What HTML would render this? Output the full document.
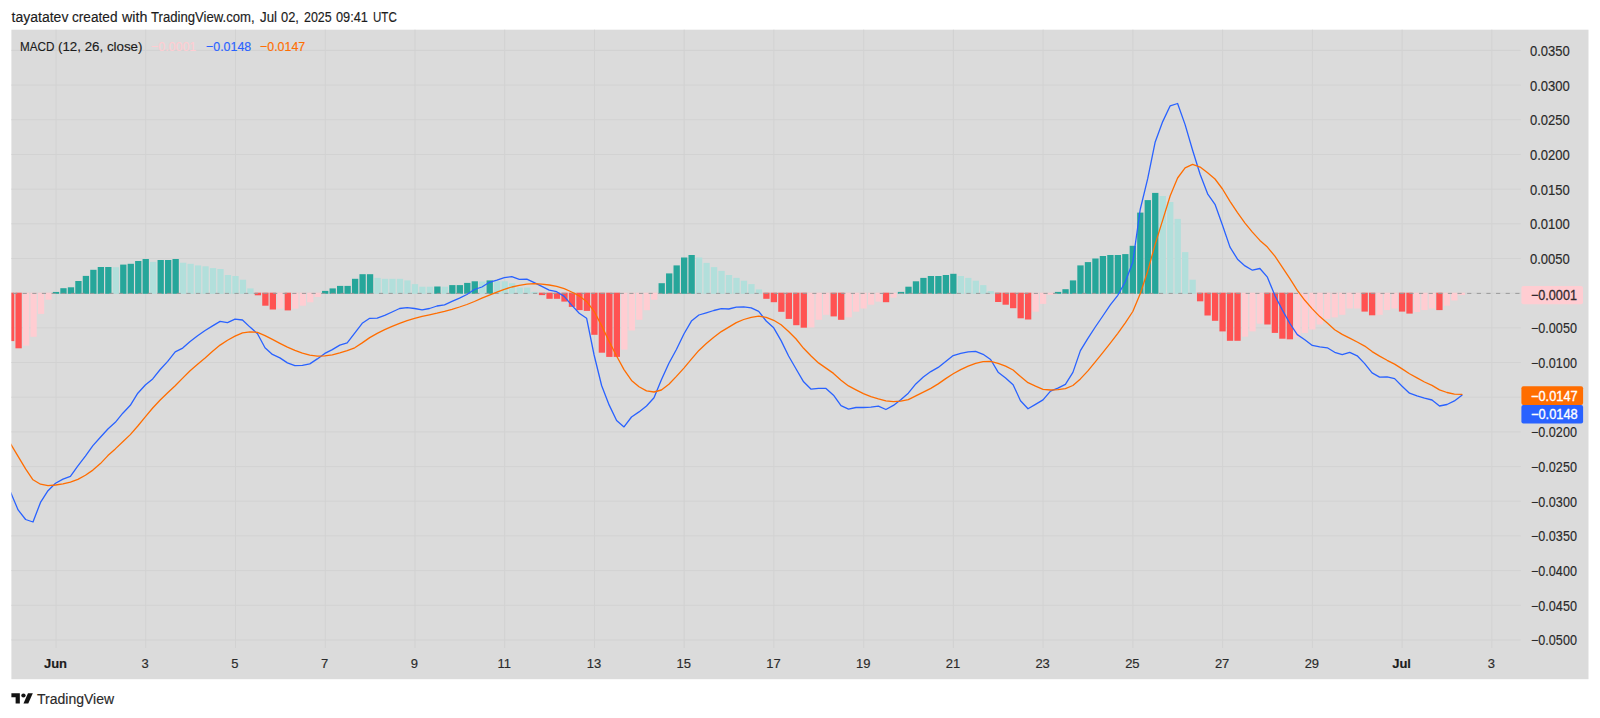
<!DOCTYPE html>
<html><head><meta charset="utf-8"><title>MACD chart</title>
<style>
html,body{margin:0;padding:0;background:#ffffff;}
body{width:1600px;height:718px;position:relative;overflow:hidden;font-family:"Liberation Sans",sans-serif;}
</style></head><body>
<svg width="1600" height="718" viewBox="0 0 1600 718" style="position:absolute;left:0;top:0"><defs><clipPath id="pane"><rect x="11.4" y="29.7" width="1509.4" height="618.3"/></clipPath></defs><rect x="11.4" y="29.7" width="1577.1" height="649.5" fill="#dbdbdb"/><g stroke="#d2d2d2" stroke-width="1"><line x1="11.4" x2="1520.8" y1="50.40" y2="50.40"/><line x1="11.4" x2="1520.8" y1="85.08" y2="85.08"/><line x1="11.4" x2="1520.8" y1="119.76" y2="119.76"/><line x1="11.4" x2="1520.8" y1="154.44" y2="154.44"/><line x1="11.4" x2="1520.8" y1="189.12" y2="189.12"/><line x1="11.4" x2="1520.8" y1="223.80" y2="223.80"/><line x1="11.4" x2="1520.8" y1="258.48" y2="258.48"/><line x1="11.4" x2="1520.8" y1="293.16" y2="293.16"/><line x1="11.4" x2="1520.8" y1="327.84" y2="327.84"/><line x1="11.4" x2="1520.8" y1="362.52" y2="362.52"/><line x1="11.4" x2="1520.8" y1="397.20" y2="397.20"/><line x1="11.4" x2="1520.8" y1="431.88" y2="431.88"/><line x1="11.4" x2="1520.8" y1="466.56" y2="466.56"/><line x1="11.4" x2="1520.8" y1="501.24" y2="501.24"/><line x1="11.4" x2="1520.8" y1="535.92" y2="535.92"/><line x1="11.4" x2="1520.8" y1="570.60" y2="570.60"/><line x1="11.4" x2="1520.8" y1="605.28" y2="605.28"/><line x1="11.4" x2="1520.8" y1="639.96" y2="639.96"/><line x1="56.00" x2="56.00" y1="29.7" y2="648"/><line x1="145.74" x2="145.74" y1="29.7" y2="648"/><line x1="235.48" x2="235.48" y1="29.7" y2="648"/><line x1="325.22" x2="325.22" y1="29.7" y2="648"/><line x1="414.96" x2="414.96" y1="29.7" y2="648"/><line x1="504.70" x2="504.70" y1="29.7" y2="648"/><line x1="594.44" x2="594.44" y1="29.7" y2="648"/><line x1="684.18" x2="684.18" y1="29.7" y2="648"/><line x1="773.92" x2="773.92" y1="29.7" y2="648"/><line x1="863.66" x2="863.66" y1="29.7" y2="648"/><line x1="953.40" x2="953.40" y1="29.7" y2="648"/><line x1="1043.14" x2="1043.14" y1="29.7" y2="648"/><line x1="1132.88" x2="1132.88" y1="29.7" y2="648"/><line x1="1222.62" x2="1222.62" y1="29.7" y2="648"/><line x1="1312.36" x2="1312.36" y1="29.7" y2="648"/><line x1="1402.10" x2="1402.10" y1="29.7" y2="648"/><line x1="1491.84" x2="1491.84" y1="29.7" y2="648"/></g><g clip-path="url(#pane)"><rect x="7.98" y="292.70" width="6.3" height="48.40" fill="#ff5252"/><rect x="15.46" y="292.70" width="6.3" height="55.60" fill="#ff5252"/><rect x="22.94" y="292.70" width="6.3" height="52.90" fill="#ffcdd2"/><rect x="30.41" y="292.70" width="6.3" height="44.10" fill="#ffcdd2"/><rect x="37.89" y="292.70" width="6.3" height="21.20" fill="#ffcdd2"/><rect x="45.37" y="292.70" width="6.3" height="7.00" fill="#ffcdd2"/><rect x="52.85" y="291.95" width="6.3" height="1.85" fill="#26a69a"/><rect x="60.33" y="288.20" width="6.3" height="5.60" fill="#26a69a"/><rect x="67.80" y="287.30" width="6.3" height="6.50" fill="#26a69a"/><rect x="75.28" y="281.00" width="6.3" height="12.80" fill="#26a69a"/><rect x="82.76" y="275.90" width="6.3" height="17.90" fill="#26a69a"/><rect x="90.24" y="269.80" width="6.3" height="24.00" fill="#26a69a"/><rect x="97.72" y="267.00" width="6.3" height="26.80" fill="#26a69a"/><rect x="105.19" y="267.00" width="6.3" height="26.80" fill="#26a69a"/><rect x="112.67" y="267.20" width="6.3" height="26.60" fill="#b2dfdb"/><rect x="120.15" y="264.60" width="6.3" height="29.20" fill="#26a69a"/><rect x="127.63" y="263.80" width="6.3" height="30.00" fill="#26a69a"/><rect x="135.11" y="261.00" width="6.3" height="32.80" fill="#26a69a"/><rect x="142.58" y="259.00" width="6.3" height="34.80" fill="#26a69a"/><rect x="150.06" y="261.90" width="6.3" height="31.90" fill="#b2dfdb"/><rect x="157.54" y="260.00" width="6.3" height="33.80" fill="#26a69a"/><rect x="165.02" y="260.00" width="6.3" height="33.80" fill="#26a69a"/><rect x="172.50" y="259.00" width="6.3" height="34.80" fill="#26a69a"/><rect x="179.97" y="262.70" width="6.3" height="31.10" fill="#b2dfdb"/><rect x="187.45" y="263.80" width="6.3" height="30.00" fill="#b2dfdb"/><rect x="194.93" y="265.40" width="6.3" height="28.40" fill="#b2dfdb"/><rect x="202.41" y="266.30" width="6.3" height="27.50" fill="#b2dfdb"/><rect x="209.89" y="268.10" width="6.3" height="25.70" fill="#b2dfdb"/><rect x="217.36" y="269.00" width="6.3" height="24.80" fill="#b2dfdb"/><rect x="224.84" y="275.00" width="6.3" height="18.80" fill="#b2dfdb"/><rect x="232.32" y="276.00" width="6.3" height="17.80" fill="#b2dfdb"/><rect x="239.80" y="279.70" width="6.3" height="14.10" fill="#b2dfdb"/><rect x="247.28" y="288.40" width="6.3" height="5.40" fill="#b2dfdb"/><rect x="254.75" y="292.70" width="6.3" height="2.60" fill="#ff5252"/><rect x="262.23" y="292.70" width="6.3" height="13.00" fill="#ff5252"/><rect x="269.71" y="292.70" width="6.3" height="16.80" fill="#ff5252"/><rect x="277.19" y="292.70" width="6.3" height="15.90" fill="#ffcdd2"/><rect x="284.67" y="292.70" width="6.3" height="17.70" fill="#ff5252"/><rect x="292.14" y="292.70" width="6.3" height="15.90" fill="#ffcdd2"/><rect x="299.62" y="292.70" width="6.3" height="13.00" fill="#ffcdd2"/><rect x="307.10" y="292.70" width="6.3" height="9.60" fill="#ffcdd2"/><rect x="314.58" y="292.70" width="6.3" height="4.30" fill="#ffcdd2"/><rect x="322.06" y="290.90" width="6.3" height="2.90" fill="#26a69a"/><rect x="329.53" y="288.40" width="6.3" height="5.40" fill="#26a69a"/><rect x="337.01" y="285.90" width="6.3" height="7.90" fill="#26a69a"/><rect x="344.49" y="285.90" width="6.3" height="7.90" fill="#26a69a"/><rect x="351.97" y="278.80" width="6.3" height="15.00" fill="#26a69a"/><rect x="359.45" y="274.20" width="6.3" height="19.60" fill="#26a69a"/><rect x="366.92" y="274.20" width="6.3" height="19.60" fill="#26a69a"/><rect x="374.40" y="277.90" width="6.3" height="15.90" fill="#b2dfdb"/><rect x="381.88" y="278.80" width="6.3" height="15.00" fill="#b2dfdb"/><rect x="389.36" y="278.80" width="6.3" height="15.00" fill="#b2dfdb"/><rect x="396.84" y="278.80" width="6.3" height="15.00" fill="#b2dfdb"/><rect x="404.31" y="280.40" width="6.3" height="13.40" fill="#b2dfdb"/><rect x="411.79" y="284.10" width="6.3" height="9.70" fill="#b2dfdb"/><rect x="419.27" y="286.70" width="6.3" height="7.10" fill="#b2dfdb"/><rect x="426.75" y="286.70" width="6.3" height="7.10" fill="#b2dfdb"/><rect x="434.23" y="286.50" width="6.3" height="7.30" fill="#26a69a"/><rect x="441.70" y="286.70" width="6.3" height="7.10" fill="#b2dfdb"/><rect x="449.18" y="285.10" width="6.3" height="8.70" fill="#26a69a"/><rect x="456.66" y="285.10" width="6.3" height="8.70" fill="#26a69a"/><rect x="464.14" y="282.90" width="6.3" height="10.90" fill="#26a69a"/><rect x="471.62" y="281.30" width="6.3" height="12.50" fill="#26a69a"/><rect x="479.09" y="281.50" width="6.3" height="12.30" fill="#b2dfdb"/><rect x="486.57" y="280.40" width="6.3" height="13.40" fill="#26a69a"/><rect x="494.05" y="281.30" width="6.3" height="12.50" fill="#b2dfdb"/><rect x="501.53" y="281.30" width="6.3" height="12.50" fill="#b2dfdb"/><rect x="509.01" y="283.20" width="6.3" height="10.60" fill="#b2dfdb"/><rect x="516.48" y="287.60" width="6.3" height="6.20" fill="#b2dfdb"/><rect x="523.96" y="287.60" width="6.3" height="6.20" fill="#b2dfdb"/><rect x="531.44" y="291.90" width="6.3" height="1.90" fill="#b2dfdb"/><rect x="538.92" y="292.70" width="6.3" height="2.40" fill="#ff5252"/><rect x="546.40" y="292.70" width="6.3" height="6.10" fill="#ff5252"/><rect x="553.87" y="292.70" width="6.3" height="6.10" fill="#ff5252"/><rect x="561.35" y="292.70" width="6.3" height="8.90" fill="#ff5252"/><rect x="568.83" y="292.70" width="6.3" height="14.20" fill="#ff5252"/><rect x="576.31" y="292.70" width="6.3" height="17.40" fill="#ff5252"/><rect x="583.79" y="292.70" width="6.3" height="18.20" fill="#ff5252"/><rect x="591.26" y="292.70" width="6.3" height="42.10" fill="#ff5252"/><rect x="598.74" y="292.70" width="6.3" height="60.00" fill="#ff5252"/><rect x="606.22" y="292.70" width="6.3" height="64.20" fill="#ff5252"/><rect x="613.70" y="292.70" width="6.3" height="64.20" fill="#ff5252"/><rect x="621.18" y="292.70" width="6.3" height="56.90" fill="#ffcdd2"/><rect x="628.65" y="292.70" width="6.3" height="37.80" fill="#ffcdd2"/><rect x="636.13" y="292.70" width="6.3" height="27.10" fill="#ffcdd2"/><rect x="643.61" y="292.70" width="6.3" height="17.50" fill="#ffcdd2"/><rect x="651.09" y="292.70" width="6.3" height="7.00" fill="#ffcdd2"/><rect x="658.57" y="283.20" width="6.3" height="10.60" fill="#26a69a"/><rect x="666.04" y="273.40" width="6.3" height="20.40" fill="#26a69a"/><rect x="673.52" y="265.40" width="6.3" height="28.40" fill="#26a69a"/><rect x="681.00" y="257.50" width="6.3" height="36.30" fill="#26a69a"/><rect x="688.48" y="255.00" width="6.3" height="38.80" fill="#26a69a"/><rect x="695.96" y="257.50" width="6.3" height="36.30" fill="#b2dfdb"/><rect x="703.43" y="262.90" width="6.3" height="30.90" fill="#b2dfdb"/><rect x="710.91" y="267.10" width="6.3" height="26.70" fill="#b2dfdb"/><rect x="718.39" y="270.90" width="6.3" height="22.90" fill="#b2dfdb"/><rect x="725.87" y="275.00" width="6.3" height="18.80" fill="#b2dfdb"/><rect x="733.35" y="277.90" width="6.3" height="15.90" fill="#b2dfdb"/><rect x="740.82" y="280.70" width="6.3" height="13.10" fill="#b2dfdb"/><rect x="748.30" y="284.10" width="6.3" height="9.70" fill="#b2dfdb"/><rect x="755.78" y="289.40" width="6.3" height="4.40" fill="#b2dfdb"/><rect x="763.26" y="292.70" width="6.3" height="6.10" fill="#ff5252"/><rect x="770.74" y="292.70" width="6.3" height="9.50" fill="#ff5252"/><rect x="778.21" y="292.70" width="6.3" height="19.10" fill="#ff5252"/><rect x="785.69" y="292.70" width="6.3" height="26.20" fill="#ff5252"/><rect x="793.17" y="292.70" width="6.3" height="32.50" fill="#ff5252"/><rect x="800.65" y="292.70" width="6.3" height="35.00" fill="#ff5252"/><rect x="808.13" y="292.70" width="6.3" height="34.70" fill="#ffcdd2"/><rect x="815.60" y="292.70" width="6.3" height="27.10" fill="#ffcdd2"/><rect x="823.08" y="292.70" width="6.3" height="22.10" fill="#ffcdd2"/><rect x="830.56" y="292.70" width="6.3" height="23.70" fill="#ff5252"/><rect x="838.04" y="292.70" width="6.3" height="27.10" fill="#ff5252"/><rect x="845.52" y="292.70" width="6.3" height="24.60" fill="#ffcdd2"/><rect x="852.99" y="292.70" width="6.3" height="19.00" fill="#ffcdd2"/><rect x="860.47" y="292.70" width="6.3" height="15.80" fill="#ffcdd2"/><rect x="867.95" y="292.70" width="6.3" height="12.00" fill="#ffcdd2"/><rect x="875.43" y="292.70" width="6.3" height="8.90" fill="#ffcdd2"/><rect x="882.91" y="292.70" width="6.3" height="9.50" fill="#ff5252"/><rect x="890.38" y="292.70" width="6.3" height="4.90" fill="#ffcdd2"/><rect x="897.86" y="291.90" width="6.3" height="1.90" fill="#26a69a"/><rect x="905.34" y="286.70" width="6.3" height="7.10" fill="#26a69a"/><rect x="912.82" y="281.30" width="6.3" height="12.50" fill="#26a69a"/><rect x="920.30" y="277.90" width="6.3" height="15.90" fill="#26a69a"/><rect x="927.77" y="276.00" width="6.3" height="17.80" fill="#26a69a"/><rect x="935.25" y="276.00" width="6.3" height="17.80" fill="#26a69a"/><rect x="942.73" y="275.00" width="6.3" height="18.80" fill="#26a69a"/><rect x="950.21" y="273.80" width="6.3" height="20.00" fill="#26a69a"/><rect x="957.69" y="276.00" width="6.3" height="17.80" fill="#b2dfdb"/><rect x="965.16" y="277.90" width="6.3" height="15.90" fill="#b2dfdb"/><rect x="972.64" y="280.70" width="6.3" height="13.10" fill="#b2dfdb"/><rect x="980.12" y="285.10" width="6.3" height="8.70" fill="#b2dfdb"/><rect x="987.60" y="291.10" width="6.3" height="2.70" fill="#b2dfdb"/><rect x="995.08" y="292.70" width="6.3" height="9.30" fill="#ff5252"/><rect x="1002.55" y="292.70" width="6.3" height="12.00" fill="#ff5252"/><rect x="1010.03" y="292.70" width="6.3" height="15.50" fill="#ff5252"/><rect x="1017.51" y="292.70" width="6.3" height="25.60" fill="#ff5252"/><rect x="1024.99" y="292.70" width="6.3" height="26.80" fill="#ff5252"/><rect x="1032.47" y="292.70" width="6.3" height="19.00" fill="#ffcdd2"/><rect x="1039.94" y="292.70" width="6.3" height="11.20" fill="#ffcdd2"/><rect x="1047.42" y="292.70" width="6.3" height="2.10" fill="#ffcdd2"/><rect x="1054.90" y="291.90" width="6.3" height="1.90" fill="#26a69a"/><rect x="1062.38" y="289.20" width="6.3" height="4.60" fill="#26a69a"/><rect x="1069.86" y="280.40" width="6.3" height="13.40" fill="#26a69a"/><rect x="1077.33" y="265.40" width="6.3" height="28.40" fill="#26a69a"/><rect x="1084.81" y="262.10" width="6.3" height="31.70" fill="#26a69a"/><rect x="1092.29" y="258.50" width="6.3" height="35.30" fill="#26a69a"/><rect x="1099.77" y="256.00" width="6.3" height="37.80" fill="#26a69a"/><rect x="1107.25" y="255.00" width="6.3" height="38.80" fill="#26a69a"/><rect x="1114.72" y="255.00" width="6.3" height="38.80" fill="#26a69a"/><rect x="1122.20" y="254.10" width="6.3" height="39.70" fill="#26a69a"/><rect x="1129.68" y="245.80" width="6.3" height="48.00" fill="#26a69a"/><rect x="1137.16" y="212.60" width="6.3" height="81.20" fill="#26a69a"/><rect x="1144.64" y="200.10" width="6.3" height="93.70" fill="#26a69a"/><rect x="1152.11" y="192.90" width="6.3" height="100.90" fill="#26a69a"/><rect x="1159.59" y="196.00" width="6.3" height="97.80" fill="#b2dfdb"/><rect x="1167.07" y="202.00" width="6.3" height="91.80" fill="#b2dfdb"/><rect x="1174.55" y="218.90" width="6.3" height="74.90" fill="#b2dfdb"/><rect x="1182.03" y="252.10" width="6.3" height="41.70" fill="#b2dfdb"/><rect x="1189.50" y="279.70" width="6.3" height="14.10" fill="#b2dfdb"/><rect x="1196.98" y="292.70" width="6.3" height="8.60" fill="#ff5252"/><rect x="1204.46" y="292.70" width="6.3" height="22.80" fill="#ff5252"/><rect x="1211.94" y="292.70" width="6.3" height="28.10" fill="#ff5252"/><rect x="1219.42" y="292.70" width="6.3" height="38.70" fill="#ff5252"/><rect x="1226.89" y="292.70" width="6.3" height="48.10" fill="#ff5252"/><rect x="1234.37" y="292.70" width="6.3" height="48.10" fill="#ff5252"/><rect x="1241.85" y="292.70" width="6.3" height="44.00" fill="#ffcdd2"/><rect x="1249.33" y="292.70" width="6.3" height="38.70" fill="#ffcdd2"/><rect x="1256.81" y="292.70" width="6.3" height="31.00" fill="#ffcdd2"/><rect x="1264.28" y="292.70" width="6.3" height="31.80" fill="#ff5252"/><rect x="1271.76" y="292.70" width="6.3" height="40.20" fill="#ff5252"/><rect x="1279.24" y="292.70" width="6.3" height="46.00" fill="#ff5252"/><rect x="1286.72" y="292.70" width="6.3" height="46.60" fill="#ff5252"/><rect x="1294.20" y="292.70" width="6.3" height="44.70" fill="#ffcdd2"/><rect x="1301.67" y="292.70" width="6.3" height="40.30" fill="#ffcdd2"/><rect x="1309.15" y="292.70" width="6.3" height="36.80" fill="#ffcdd2"/><rect x="1316.63" y="292.70" width="6.3" height="31.80" fill="#ffcdd2"/><rect x="1324.11" y="292.70" width="6.3" height="26.20" fill="#ffcdd2"/><rect x="1331.59" y="292.70" width="6.3" height="24.70" fill="#ffcdd2"/><rect x="1339.06" y="292.70" width="6.3" height="22.10" fill="#ffcdd2"/><rect x="1346.54" y="292.70" width="6.3" height="15.80" fill="#ffcdd2"/><rect x="1354.02" y="292.70" width="6.3" height="15.80" fill="#ffcdd2"/><rect x="1361.50" y="292.70" width="6.3" height="18.90" fill="#ff5252"/><rect x="1368.98" y="292.70" width="6.3" height="22.60" fill="#ff5252"/><rect x="1376.45" y="292.70" width="6.3" height="22.10" fill="#ffcdd2"/><rect x="1383.93" y="292.70" width="6.3" height="17.40" fill="#ffcdd2"/><rect x="1391.41" y="292.70" width="6.3" height="15.80" fill="#ffcdd2"/><rect x="1398.89" y="292.70" width="6.3" height="18.90" fill="#ff5252"/><rect x="1406.37" y="292.70" width="6.3" height="20.90" fill="#ff5252"/><rect x="1413.84" y="292.70" width="6.3" height="19.30" fill="#ffcdd2"/><rect x="1421.32" y="292.70" width="6.3" height="17.40" fill="#ffcdd2"/><rect x="1428.80" y="292.70" width="6.3" height="15.80" fill="#ffcdd2"/><rect x="1436.28" y="292.70" width="6.3" height="17.40" fill="#ff5252"/><rect x="1443.76" y="292.70" width="6.3" height="13.00" fill="#ffcdd2"/><rect x="1451.23" y="292.70" width="6.3" height="7.80" fill="#ffcdd2"/><rect x="1458.71" y="292.70" width="6.3" height="2.40" fill="#ffcdd2"/><line x1="11.4" x2="1520.8" y1="293.4" y2="293.4" stroke="#9a9a9a" stroke-width="1" stroke-dasharray="4.2 5.43" stroke-dashoffset="-1.6"/><path d="M10.6,492.2 L18.1,509.9 L25.6,519.5 L33.0,522.0 L40.5,502.4 L48.0,490.7 L55.5,483.2 L63.0,479.1 L70.4,476.4 L77.9,465.9 L85.4,456.1 L92.9,445.6 L100.4,437.3 L107.9,429.0 L115.3,422.3 L122.8,413.2 L130.3,405.3 L137.8,393.2 L145.3,385.0 L152.7,378.9 L160.2,369.5 L167.7,361.4 L175.2,351.9 L182.7,348.1 L190.1,341.4 L197.6,335.8 L205.1,330.5 L212.6,325.9 L220.1,321.4 L227.5,322.6 L235.0,319.2 L242.5,320.0 L250.0,327.1 L257.5,333.8 L265.0,347.8 L272.4,354.4 L279.9,357.9 L287.4,362.9 L294.9,365.6 L302.4,365.4 L309.8,363.9 L317.3,358.9 L324.8,353.4 L332.3,349.6 L339.8,345.1 L347.2,342.9 L354.7,333.1 L362.2,323.3 L369.7,318.3 L377.2,318.1 L384.7,315.3 L392.1,312.0 L399.6,308.5 L407.1,307.6 L414.6,308.5 L422.1,309.9 L429.5,308.5 L437.0,306.0 L444.5,304.8 L452.0,301.4 L459.5,298.2 L466.9,294.5 L474.4,289.5 L481.9,287.0 L489.4,282.3 L496.9,280.1 L504.3,277.6 L511.8,276.6 L519.3,279.4 L526.8,279.2 L534.3,282.6 L541.8,286.3 L549.2,290.1 L556.7,291.7 L564.2,296.4 L571.7,305.1 L579.2,313.3 L586.6,318.2 L594.1,355.0 L601.6,385.5 L609.1,404.9 L616.6,420.5 L624.0,426.9 L631.5,417.0 L639.0,411.9 L646.5,406.0 L654.0,397.8 L661.4,379.8 L668.9,363.2 L676.4,349.5 L683.9,334.0 L691.4,321.1 L698.9,315.0 L706.3,312.8 L713.8,310.5 L721.3,308.6 L728.8,309.0 L736.3,307.1 L743.7,306.8 L751.2,307.8 L758.7,311.3 L766.2,321.0 L773.7,327.8 L781.1,340.6 L788.6,356.0 L796.1,369.0 L803.6,381.8 L811.1,389.2 L818.5,388.4 L826.0,388.4 L833.5,395.2 L841.0,405.7 L848.5,409.2 L856.0,407.5 L863.4,407.5 L870.9,407.2 L878.4,406.2 L885.9,409.5 L893.4,405.4 L900.8,399.7 L908.3,393.2 L915.8,383.9 L923.3,377.1 L930.8,371.6 L938.2,367.4 L945.7,361.4 L953.2,355.6 L960.7,353.4 L968.2,351.9 L975.6,351.3 L983.1,354.3 L990.6,359.5 L998.1,372.2 L1005.6,377.9 L1013.1,384.7 L1020.5,400.7 L1028.0,408.8 L1035.5,404.4 L1043.0,399.9 L1050.5,391.2 L1057.9,388.2 L1065.4,384.4 L1072.9,372.4 L1080.4,350.6 L1087.9,338.3 L1095.3,327.0 L1102.8,316.0 L1110.3,304.9 L1117.8,295.3 L1125.3,281.7 L1132.8,262.2 L1140.2,209.5 L1147.7,178.7 L1155.2,141.9 L1162.7,121.6 L1170.2,105.8 L1177.6,103.5 L1185.1,124.6 L1192.6,150.2 L1200.1,174.2 L1207.6,193.8 L1215.0,204.3 L1222.5,225.3 L1230.0,247.1 L1237.5,259.2 L1245.0,265.9 L1252.4,270.2 L1259.9,268.5 L1267.4,277.2 L1274.9,295.5 L1282.4,310.1 L1289.9,323.5 L1297.3,334.6 L1304.8,339.8 L1312.3,345.4 L1319.8,346.8 L1327.3,347.8 L1334.7,352.3 L1342.2,354.6 L1349.7,352.3 L1357.2,355.8 L1364.7,363.6 L1372.1,372.9 L1379.6,377.1 L1387.1,376.8 L1394.6,378.6 L1402.1,386.2 L1409.5,393.2 L1417.0,395.9 L1424.5,398.2 L1432.0,400.0 L1439.5,406.0 L1447.0,404.5 L1454.4,400.9 L1461.9,395.2" fill="none" stroke="#2962ff" stroke-width="1.3" stroke-linejoin="round" stroke-linecap="round"/><path d="M10.6,443.8 L18.1,456.4 L25.6,468.9 L33.0,479.8 L40.5,484.2 L48.0,485.6 L55.5,485.0 L63.0,483.9 L70.4,482.1 L77.9,479.4 L85.4,475.3 L92.9,470.1 L100.4,463.6 L107.9,455.6 L115.3,448.9 L122.8,441.8 L130.3,434.6 L137.8,426.0 L145.3,416.9 L152.7,408.0 L160.2,400.0 L167.7,392.8 L175.2,385.7 L182.7,378.1 L190.1,370.7 L197.6,364.2 L205.1,357.9 L212.6,351.2 L220.1,345.1 L227.5,340.2 L235.0,336.1 L242.5,332.8 L250.0,331.9 L257.5,332.3 L265.0,335.6 L272.4,339.4 L279.9,343.3 L287.4,347.1 L294.9,350.4 L302.4,353.2 L309.8,355.2 L317.3,356.2 L324.8,355.9 L332.3,354.9 L339.8,352.9 L347.2,350.6 L354.7,347.8 L362.2,342.9 L369.7,337.6 L377.2,333.4 L384.7,329.7 L392.1,326.4 L399.6,323.3 L407.1,320.6 L414.6,318.3 L422.1,316.4 L429.5,314.8 L437.0,313.2 L444.5,311.4 L452.0,309.3 L459.5,307.0 L466.9,304.5 L474.4,301.5 L481.9,298.2 L489.4,295.1 L496.9,292.1 L504.3,289.3 L511.8,287.0 L519.3,285.3 L526.8,284.1 L534.3,283.6 L541.8,284.1 L549.2,285.0 L556.7,286.3 L564.2,288.7 L571.7,292.0 L579.2,295.9 L586.6,301.4 L594.1,311.3 L601.6,325.6 L609.1,341.4 L616.6,356.0 L624.0,369.6 L631.5,380.4 L639.0,386.7 L646.5,390.9 L654.0,392.0 L661.4,390.0 L668.9,384.3 L676.4,376.4 L683.9,368.1 L691.4,359.1 L698.9,350.4 L706.3,343.6 L713.8,337.3 L721.3,331.6 L728.8,327.1 L736.3,322.6 L743.7,319.5 L751.2,317.3 L758.7,316.2 L766.2,317.3 L773.7,320.3 L781.1,324.8 L788.6,331.5 L796.1,339.0 L803.6,348.3 L811.1,356.0 L818.5,362.9 L826.0,368.1 L833.5,373.4 L841.0,380.2 L848.5,385.9 L856.0,389.9 L863.4,393.7 L870.9,396.7 L878.4,398.9 L885.9,400.8 L893.4,401.7 L900.8,401.2 L908.3,399.7 L915.8,395.9 L923.3,392.2 L930.8,388.4 L938.2,383.9 L945.7,378.6 L953.2,373.8 L960.7,369.6 L968.2,366.2 L975.6,363.3 L983.1,361.7 L990.6,361.4 L998.1,363.3 L1005.6,366.2 L1013.1,370.0 L1020.5,376.6 L1028.0,382.7 L1035.5,386.2 L1043.0,389.4 L1050.5,390.0 L1057.9,389.7 L1065.4,388.6 L1072.9,385.5 L1080.4,378.9 L1087.9,370.9 L1095.3,361.9 L1102.8,352.6 L1110.3,343.1 L1117.8,333.3 L1125.3,322.8 L1132.8,311.5 L1140.2,293.8 L1147.7,271.2 L1155.2,244.1 L1162.7,220.1 L1170.2,195.7 L1177.6,178.0 L1185.1,167.9 L1192.6,164.4 L1200.1,167.1 L1207.6,172.7 L1215.0,179.0 L1222.5,189.0 L1230.0,201.3 L1237.5,212.6 L1245.0,223.1 L1252.4,232.1 L1259.9,240.4 L1267.4,247.1 L1274.9,256.2 L1282.4,267.4 L1289.9,278.7 L1297.3,290.3 L1304.8,300.3 L1312.3,308.9 L1319.8,316.6 L1327.3,323.0 L1334.7,329.7 L1342.2,334.4 L1349.7,338.2 L1357.2,342.0 L1364.7,346.1 L1372.1,351.6 L1379.6,356.1 L1387.1,360.3 L1394.6,364.1 L1402.1,368.9 L1409.5,373.7 L1417.0,377.9 L1424.5,382.0 L1432.0,385.4 L1439.5,389.9 L1447.0,392.5 L1454.4,394.1 L1461.9,394.4" fill="none" stroke="#ff6d00" stroke-width="1.3" stroke-linejoin="round" stroke-linecap="round"/></g><rect x="1521.4" y="286" width="61.6" height="18.3" rx="2" fill="#ffcdd2"/><rect x="1521.4" y="386.3" width="61.7" height="18.6" rx="2" fill="#ff6d00"/><rect x="1521.4" y="404.9" width="61.7" height="18.5" rx="2" fill="#2962ff"/><g transform="translate(11.4,690.95) scale(0.603,0.575)" fill="#131313"><path d="M14 22H7V11H0V4h14v18z"/><path d="M28 22h-8l7.5-18h8L28 22z"/><circle cx="20" cy="8" r="3.6"/></g></svg>
<div style="position:absolute;top:9px;font-size:14px;line-height:16px;height:16px;color:#1c1c1c;font-weight:normal;white-space:nowrap;left:11.6px;transform-origin:left center;transform:scaleX(1.0);-webkit-text-stroke:0.15px #1c1c1c;">tayatatev</div><div style="position:absolute;top:9px;font-size:14px;line-height:16px;height:16px;color:#1c1c1c;font-weight:normal;white-space:nowrap;left:72.2px;transform-origin:left center;transform:scaleX(0.975);-webkit-text-stroke:0.15px #1c1c1c;">created</div><div style="position:absolute;top:9px;font-size:14px;line-height:16px;height:16px;color:#1c1c1c;font-weight:normal;white-space:nowrap;left:122.2px;transform-origin:left center;transform:scaleX(1.02);-webkit-text-stroke:0.15px #1c1c1c;">with</div><div style="position:absolute;top:9px;font-size:14px;line-height:16px;height:16px;color:#1c1c1c;font-weight:normal;white-space:nowrap;left:151.2px;transform-origin:left center;transform:scaleX(0.938);-webkit-text-stroke:0.15px #1c1c1c;">TradingView.com,</div><div style="position:absolute;top:9px;font-size:14px;line-height:16px;height:16px;color:#1c1c1c;font-weight:normal;white-space:nowrap;left:259.6px;transform-origin:left center;transform:scaleX(0.95);-webkit-text-stroke:0.15px #1c1c1c;">Jul</div><div style="position:absolute;top:9px;font-size:14px;line-height:16px;height:16px;color:#1c1c1c;font-weight:normal;white-space:nowrap;left:281.4px;transform-origin:left center;transform:scaleX(0.92);-webkit-text-stroke:0.15px #1c1c1c;">02,</div><div style="position:absolute;top:9px;font-size:14px;line-height:16px;height:16px;color:#1c1c1c;font-weight:normal;white-space:nowrap;left:303.5px;transform-origin:left center;transform:scaleX(0.89);-webkit-text-stroke:0.15px #1c1c1c;">2025</div><div style="position:absolute;top:9px;font-size:14px;line-height:16px;height:16px;color:#1c1c1c;font-weight:normal;white-space:nowrap;left:336.2px;transform-origin:left center;transform:scaleX(0.912);-webkit-text-stroke:0.15px #1c1c1c;">09:41</div><div style="position:absolute;top:9px;font-size:14px;line-height:16px;height:16px;color:#1c1c1c;font-weight:normal;white-space:nowrap;left:372.6px;transform-origin:left center;transform:scaleX(0.825);-webkit-text-stroke:0.15px #1c1c1c;">UTC</div><div style="position:absolute;top:39px;font-size:13px;line-height:15px;height:15px;color:#1c1c1c;font-weight:normal;white-space:nowrap;left:20.1px;transform-origin:left center;transform:scaleX(0.9);-webkit-text-stroke:0.15px #1c1c1c;">MACD</div><div style="position:absolute;top:39px;font-size:13px;line-height:15px;height:15px;color:#1c1c1c;font-weight:normal;white-space:nowrap;left:58.2px;transform-origin:left center;transform:scaleX(1.025);-webkit-text-stroke:0.15px #1c1c1c;">(12, 26, close)</div><div style="position:absolute;top:39px;font-size:13px;line-height:15px;height:15px;color:#ffcdd2;font-weight:normal;white-space:nowrap;left:151.3px;transform-origin:left center;transform:scaleX(0.955);-webkit-text-stroke:0.15px #ffcdd2;">−0.0001</div><div style="position:absolute;top:39px;font-size:13px;line-height:15px;height:15px;color:#2962ff;font-weight:normal;white-space:nowrap;left:206px;transform-origin:left center;transform:scaleX(0.955);-webkit-text-stroke:0.15px #2962ff;">−0.0148</div><div style="position:absolute;top:39px;font-size:13px;line-height:15px;height:15px;color:#ff6d00;font-weight:normal;white-space:nowrap;left:260.3px;transform-origin:left center;transform:scaleX(0.955);-webkit-text-stroke:0.15px #ff6d00;">−0.0147</div><div style="position:absolute;top:43px;font-size:14px;line-height:16px;height:16px;color:#2a2a2a;font-weight:normal;white-space:nowrap;left:1530.4px;transform-origin:left center;transform:scaleX(0.929);-webkit-text-stroke:0.15px #2a2a2a;">0.0350</div><div style="position:absolute;top:78px;font-size:14px;line-height:16px;height:16px;color:#2a2a2a;font-weight:normal;white-space:nowrap;left:1530.4px;transform-origin:left center;transform:scaleX(0.929);-webkit-text-stroke:0.15px #2a2a2a;">0.0300</div><div style="position:absolute;top:112px;font-size:14px;line-height:16px;height:16px;color:#2a2a2a;font-weight:normal;white-space:nowrap;left:1530.4px;transform-origin:left center;transform:scaleX(0.929);-webkit-text-stroke:0.15px #2a2a2a;">0.0250</div><div style="position:absolute;top:147px;font-size:14px;line-height:16px;height:16px;color:#2a2a2a;font-weight:normal;white-space:nowrap;left:1530.4px;transform-origin:left center;transform:scaleX(0.929);-webkit-text-stroke:0.15px #2a2a2a;">0.0200</div><div style="position:absolute;top:182px;font-size:14px;line-height:16px;height:16px;color:#2a2a2a;font-weight:normal;white-space:nowrap;left:1530.4px;transform-origin:left center;transform:scaleX(0.929);-webkit-text-stroke:0.15px #2a2a2a;">0.0150</div><div style="position:absolute;top:216px;font-size:14px;line-height:16px;height:16px;color:#2a2a2a;font-weight:normal;white-space:nowrap;left:1530.4px;transform-origin:left center;transform:scaleX(0.929);-webkit-text-stroke:0.15px #2a2a2a;">0.0100</div><div style="position:absolute;top:251px;font-size:14px;line-height:16px;height:16px;color:#2a2a2a;font-weight:normal;white-space:nowrap;left:1530.4px;transform-origin:left center;transform:scaleX(0.929);-webkit-text-stroke:0.15px #2a2a2a;">0.0050</div><div style="position:absolute;top:320px;font-size:14px;line-height:16px;height:16px;color:#2a2a2a;font-weight:normal;white-space:nowrap;left:1531.0px;transform-origin:left center;transform:scaleX(0.9);-webkit-text-stroke:0.15px #2a2a2a;">−0.0050</div><div style="position:absolute;top:355px;font-size:14px;line-height:16px;height:16px;color:#2a2a2a;font-weight:normal;white-space:nowrap;left:1531.0px;transform-origin:left center;transform:scaleX(0.9);-webkit-text-stroke:0.15px #2a2a2a;">−0.0100</div><div style="position:absolute;top:424px;font-size:14px;line-height:16px;height:16px;color:#2a2a2a;font-weight:normal;white-space:nowrap;left:1531.0px;transform-origin:left center;transform:scaleX(0.9);-webkit-text-stroke:0.15px #2a2a2a;">−0.0200</div><div style="position:absolute;top:459px;font-size:14px;line-height:16px;height:16px;color:#2a2a2a;font-weight:normal;white-space:nowrap;left:1531.0px;transform-origin:left center;transform:scaleX(0.9);-webkit-text-stroke:0.15px #2a2a2a;">−0.0250</div><div style="position:absolute;top:494px;font-size:14px;line-height:16px;height:16px;color:#2a2a2a;font-weight:normal;white-space:nowrap;left:1531.0px;transform-origin:left center;transform:scaleX(0.9);-webkit-text-stroke:0.15px #2a2a2a;">−0.0300</div><div style="position:absolute;top:528px;font-size:14px;line-height:16px;height:16px;color:#2a2a2a;font-weight:normal;white-space:nowrap;left:1531.0px;transform-origin:left center;transform:scaleX(0.9);-webkit-text-stroke:0.15px #2a2a2a;">−0.0350</div><div style="position:absolute;top:563px;font-size:14px;line-height:16px;height:16px;color:#2a2a2a;font-weight:normal;white-space:nowrap;left:1531.0px;transform-origin:left center;transform:scaleX(0.9);-webkit-text-stroke:0.15px #2a2a2a;">−0.0400</div><div style="position:absolute;top:598px;font-size:14px;line-height:16px;height:16px;color:#2a2a2a;font-weight:normal;white-space:nowrap;left:1531.0px;transform-origin:left center;transform:scaleX(0.9);-webkit-text-stroke:0.15px #2a2a2a;">−0.0450</div><div style="position:absolute;top:632px;font-size:14px;line-height:16px;height:16px;color:#2a2a2a;font-weight:normal;white-space:nowrap;left:1531.0px;transform-origin:left center;transform:scaleX(0.9);-webkit-text-stroke:0.15px #2a2a2a;">−0.0500</div><div style="position:absolute;top:287px;font-size:14px;line-height:16px;height:16px;color:#33292d;font-weight:normal;white-space:nowrap;left:1531.4px;transform-origin:left center;transform:scaleX(0.9);-webkit-text-stroke:0.3px #33292d;">−0.0001</div><div style="position:absolute;top:388px;font-size:14px;line-height:16px;height:16px;color:#ffffff;font-weight:normal;white-space:nowrap;left:1531.2px;transform-origin:left center;transform:scaleX(0.915);-webkit-text-stroke:0.35px #ffffff;">−0.0147</div><div style="position:absolute;top:406px;font-size:14px;line-height:16px;height:16px;color:#ffffff;font-weight:normal;white-space:nowrap;left:1531.2px;transform-origin:left center;transform:scaleX(0.915);-webkit-text-stroke:0.35px #ffffff;">−0.0148</div><div style="position:absolute;top:656px;font-size:13px;line-height:15px;height:15px;color:#1c1c1c;font-weight:bold;white-space:nowrap;left:55.5px;transform-origin:center center;transform:translateX(-50%);-webkit-text-stroke:0.15px #1c1c1c;">Jun</div><div style="position:absolute;top:656px;font-size:13px;line-height:15px;height:15px;color:#2a2a2a;font-weight:normal;white-space:nowrap;left:145.24px;transform-origin:center center;transform:translateX(-50%);-webkit-text-stroke:0.15px #2a2a2a;">3</div><div style="position:absolute;top:656px;font-size:13px;line-height:15px;height:15px;color:#2a2a2a;font-weight:normal;white-space:nowrap;left:234.98px;transform-origin:center center;transform:translateX(-50%);-webkit-text-stroke:0.15px #2a2a2a;">5</div><div style="position:absolute;top:656px;font-size:13px;line-height:15px;height:15px;color:#2a2a2a;font-weight:normal;white-space:nowrap;left:324.71999999999997px;transform-origin:center center;transform:translateX(-50%);-webkit-text-stroke:0.15px #2a2a2a;">7</div><div style="position:absolute;top:656px;font-size:13px;line-height:15px;height:15px;color:#2a2a2a;font-weight:normal;white-space:nowrap;left:414.46px;transform-origin:center center;transform:translateX(-50%);-webkit-text-stroke:0.15px #2a2a2a;">9</div><div style="position:absolute;top:656px;font-size:13px;line-height:15px;height:15px;color:#2a2a2a;font-weight:normal;white-space:nowrap;left:504.2px;transform-origin:center center;transform:translateX(-50%);-webkit-text-stroke:0.15px #2a2a2a;">11</div><div style="position:absolute;top:656px;font-size:13px;line-height:15px;height:15px;color:#2a2a2a;font-weight:normal;white-space:nowrap;left:593.9399999999999px;transform-origin:center center;transform:translateX(-50%);-webkit-text-stroke:0.15px #2a2a2a;">13</div><div style="position:absolute;top:656px;font-size:13px;line-height:15px;height:15px;color:#2a2a2a;font-weight:normal;white-space:nowrap;left:683.68px;transform-origin:center center;transform:translateX(-50%);-webkit-text-stroke:0.15px #2a2a2a;">15</div><div style="position:absolute;top:656px;font-size:13px;line-height:15px;height:15px;color:#2a2a2a;font-weight:normal;white-space:nowrap;left:773.42px;transform-origin:center center;transform:translateX(-50%);-webkit-text-stroke:0.15px #2a2a2a;">17</div><div style="position:absolute;top:656px;font-size:13px;line-height:15px;height:15px;color:#2a2a2a;font-weight:normal;white-space:nowrap;left:863.16px;transform-origin:center center;transform:translateX(-50%);-webkit-text-stroke:0.15px #2a2a2a;">19</div><div style="position:absolute;top:656px;font-size:13px;line-height:15px;height:15px;color:#2a2a2a;font-weight:normal;white-space:nowrap;left:952.9px;transform-origin:center center;transform:translateX(-50%);-webkit-text-stroke:0.15px #2a2a2a;">21</div><div style="position:absolute;top:656px;font-size:13px;line-height:15px;height:15px;color:#2a2a2a;font-weight:normal;white-space:nowrap;left:1042.6399999999999px;transform-origin:center center;transform:translateX(-50%);-webkit-text-stroke:0.15px #2a2a2a;">23</div><div style="position:absolute;top:656px;font-size:13px;line-height:15px;height:15px;color:#2a2a2a;font-weight:normal;white-space:nowrap;left:1132.3799999999999px;transform-origin:center center;transform:translateX(-50%);-webkit-text-stroke:0.15px #2a2a2a;">25</div><div style="position:absolute;top:656px;font-size:13px;line-height:15px;height:15px;color:#2a2a2a;font-weight:normal;white-space:nowrap;left:1222.12px;transform-origin:center center;transform:translateX(-50%);-webkit-text-stroke:0.15px #2a2a2a;">27</div><div style="position:absolute;top:656px;font-size:13px;line-height:15px;height:15px;color:#2a2a2a;font-weight:normal;white-space:nowrap;left:1311.86px;transform-origin:center center;transform:translateX(-50%);-webkit-text-stroke:0.15px #2a2a2a;">29</div><div style="position:absolute;top:656px;font-size:13px;line-height:15px;height:15px;color:#1c1c1c;font-weight:bold;white-space:nowrap;left:1401.6px;transform-origin:center center;transform:translateX(-50%);-webkit-text-stroke:0.15px #1c1c1c;">Jul</div><div style="position:absolute;top:656px;font-size:13px;line-height:15px;height:15px;color:#2a2a2a;font-weight:normal;white-space:nowrap;left:1491.34px;transform-origin:center center;transform:translateX(-50%);-webkit-text-stroke:0.15px #2a2a2a;">3</div><div style="position:absolute;top:691px;font-size:14px;line-height:16px;height:16px;color:#2a2a2a;font-weight:normal;white-space:nowrap;left:37.0px;transform-origin:left center;-webkit-text-stroke:0.15px #2a2a2a;">TradingView</div>
</body></html>
